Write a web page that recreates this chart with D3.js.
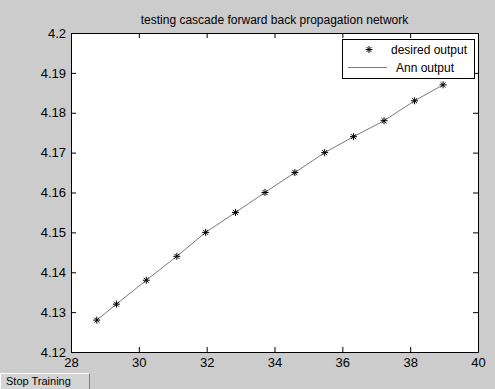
<!DOCTYPE html>
<html>
<head>
<meta charset="utf-8">
<script src="https://cdn.jsdelivr.net/npm/d3@7"></script>
<style>
  body { margin: 0; background: #cccccc; }
  svg { display: block; font-family: "Liberation Sans", Arial, sans-serif; }
</style>
</head>
<body>
<div id="container"></div>
<script>
/* DATA */
const inputs = [28.76, 29.34, 30.22, 31.12, 31.97, 32.85, 33.72, 34.60, 35.48, 36.33, 37.23, 38.13, 38.97];
const desiredOutput = [4.128, 4.132, 4.138, 4.144, 4.150, 4.155, 4.160, 4.165, 4.170, 4.174, 4.178, 4.183, 4.187];
const annOutput = [4.128, 4.132, 4.138, 4.144, 4.150, 4.155, 4.160, 4.165, 4.170, 4.174, 4.178, 4.183, 4.187];
const xTicks = [28, 30, 32, 34, 36, 38, 40];
const yTicks = [4.12, 4.13, 4.14, 4.15, 4.16, 4.17, 4.18, 4.19, 4.2];
const legendLabels = ["desired output", "Ann output"];
const title = "testing cascade forward back propagation network";

/* CONSTANTS */
const width = 495, height = 389;
const margin = {top: 33, bottom: 37, left: 71, right: 17};

const svg = d3.select("#container")
  .append("svg")
  .attr("width", width)
  .attr("height", height);

svg.append("rect")
  .attr("width", width).attr("height", height)
  .attr("fill", "#cccccc");

/* SCALES */
const xScale = d3.scaleLinear()
  .domain([28, 40])
  .range([margin.left, width - margin.right]);

const yScale = d3.scaleLinear()
  .domain([4.12, 4.2])
  .range([height - margin.bottom, margin.top]);

// plot background
svg.append("rect")
  .attr("x", margin.left)
  .attr("y", margin.top)
  .attr("width", width - margin.right - margin.left)
  .attr("height", height - margin.bottom - margin.top)
  .attr("fill", "white");

//Axes (ticks point inward, box on all four sides)
const fmtY = d => String(+d.toFixed(2));
const styleAxis = g => {
  g.select(".domain").attr("stroke", "black");
  g.selectAll(".tick line").attr("stroke", "black");
  g.selectAll("text").attr("fill", "black").style("font-size", "13px")
    .style("font-family", "Liberation Sans, Arial, sans-serif");
};

svg.append("g")
  .attr("transform", `translate(0, ${height - margin.bottom})`)
  .call(d3.axisBottom(xScale).tickValues(xTicks).tickSizeInner(-5).tickSizeOuter(0).tickPadding(6))
  .call(styleAxis);

svg.append("g")
  .attr("transform", `translate(0, ${margin.top})`)
  .call(d3.axisTop(xScale).tickValues(xTicks).tickSizeInner(-5).tickSizeOuter(0).tickFormat(""))
  .call(styleAxis);

svg.append("g")
  .attr("transform", `translate(${margin.left},0)`)
  .call(d3.axisLeft(yScale).tickValues(yTicks).tickSizeInner(-5).tickSizeOuter(0).tickPadding(5).tickFormat(fmtY))
  .call(styleAxis);

svg.append("g")
  .attr("transform", `translate(${width - margin.right},0)`)
  .call(d3.axisRight(yScale).tickValues(yTicks).tickSizeInner(-5).tickSizeOuter(0).tickFormat(""))
  .call(styleAxis);

// star marker, MATLAB style '*'
const star = r => {
  const d = r * 0.72;
  return `M${-r},0L${r},0M0,${-r}L0,${r}M${-d},${-d}L${d},${d}M${-d},${d}L${d},${-d}`;
};

//Ann output line
const line = d3.line()
  .x((d, i) => xScale(inputs[i]))
  .y(d => yScale(d));

svg.append("path")
  .datum(annOutput)
  .attr("d", line)
  .attr("fill", "none")
  .attr("stroke", "#7a7a7a")
  .attr("stroke-width", 1);

//Desired output markers
svg.selectAll(".star")
  .data(desiredOutput)
  .join("path")
  .attr("class", "star")
  .attr("transform", (d, i) => `translate(${xScale(inputs[i])},${yScale(d)})`)
  .attr("d", star(3.5))
  .attr("stroke", "black")
  .attr("stroke-width", 1)
  .attr("fill", "none");

//Title
svg.append("text")
  .attr("x", (margin.left + width - margin.right) / 2)
  .attr("y", 24)
  .attr("text-anchor", "middle")
  .style("font-size", "12px")
  .style("fill", "black")
  .text(title);

//Legend
const legend = svg.append("g");
legend.append("rect")
  .attr("x", 342.5).attr("y", 39.5)
  .attr("width", 132).attr("height", 39)
  .attr("fill", "white")
  .attr("stroke", "black");

legend.append("path")
  .attr("transform", "translate(369,49.5)")
  .attr("d", star(3.5))
  .attr("stroke", "black")
  .attr("fill", "none");

legend.append("line")
  .attr("x1", 348).attr("x2", 387)
  .attr("y1", 67.5).attr("y2", 67.5)
  .attr("stroke", "#7a7a7a");

legend.selectAll(".lbl")
  .data(legendLabels)
  .join("text")
  .attr("class", "lbl")
  .attr("x", (d, i) => i === 0 ? 391 : 396)
  .attr("y", (d, i) => i === 0 ? 54 : 72)
  .style("font-size", "12px")
  .style("fill", "black")
  .text(d => d);

//Stop Training button
const btn = svg.append("g");
btn.append("rect")
  .attr("x", 0).attr("y", 373)
  .attr("width", 90).attr("height", 16)
  .attr("fill", "#d4d4d4");
btn.append("path")
  .attr("d", "M0.5,388.5L0.5,373.5L89.5,373.5")
  .attr("fill", "none")
  .attr("stroke", "white");
btn.append("path")
  .attr("d", "M89.5,373.5L89.5,389")
  .attr("fill", "none")
  .attr("stroke", "#808080");
btn.append("text")
  .attr("x", 6).attr("y", 385)
  .style("font-size", "11px")
  .style("fill", "black")
  .text("Stop Training");
</script>
</body>
</html>
